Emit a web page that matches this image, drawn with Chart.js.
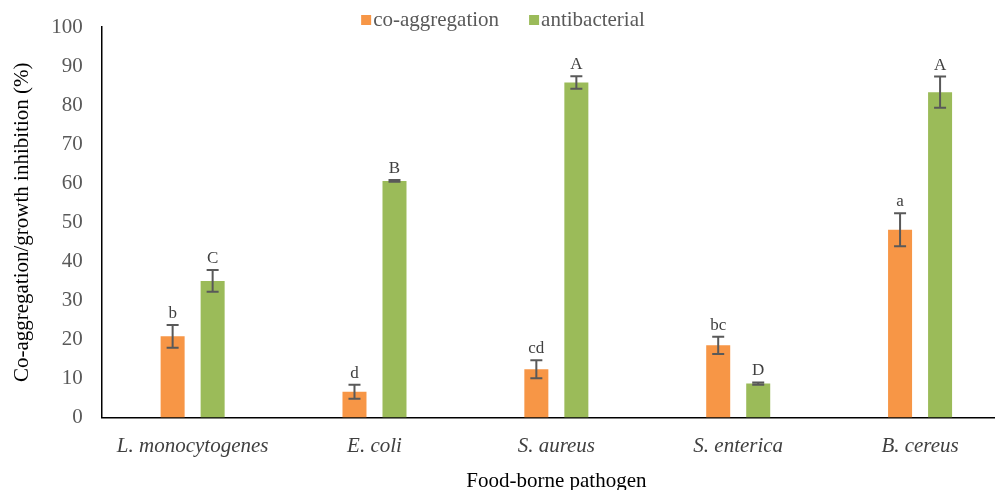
<!DOCTYPE html>
<html>
<head>
<meta charset="utf-8">
<script src="https://cdn.jsdelivr.net/npm/chart.js@4.4.1/dist/chart.umd.min.js"></script>
<style>
  html, body { margin: 0; padding: 0; background: #fff; }
  #wrap { width: 995px; height: 490px; overflow: hidden; position: relative; }
  canvas { display: block; }
</style>
</head>
<body>
<div id="wrap">
  <canvas id="myChart" width="1016" height="500"></canvas>
</div>
<script>
const categories = ['L. monocytogenes', 'E. coli', 'S. aureus', 'S. enterica', 'B. cereus'];
const coAgg = [20.8, 6.6, 12.4, 18.5, 48.1];
const coAggErr = [2.9, 1.8, 2.3, 2.2, 4.2];
const coAggLetters = ['b', 'd', 'cd', 'bc', 'a'];
const antibac = [35.0, 60.6, 85.8, 8.7, 83.3];
const antibacErr = [2.8, 0.2, 1.6, 0.3, 4.0];
const antibacLetters = ['C', 'B', 'A', 'D', 'A'];
const yTicks = [0, 10, 20, 30, 40, 50, 60, 70, 80, 90, 100];

const serif = "'Liberation Serif', 'Times New Roman', serif";
const orange = '#F79646'
const green = '#9BBB59'

const errs = [coAggErr, antibacErr]
const letters = [coAggLetters, antibacLetters]

// error bars and significance letters
const errorBars = {
    id: 'errorBars',
    afterDatasetsDraw(chart) {
        const ctx = chart.ctx
        const y = chart.scales.y
        ctx.save()
        chart.data.datasets.forEach((ds, d) => {
            const meta = chart.getDatasetMeta(d)
            meta.data.forEach((bar, i) => {
                const v = ds.data[i]
                const e = errs[d][i]
                const top = y.getPixelForValue(v + e)
                const bot = y.getPixelForValue(v - e)
                ctx.strokeStyle = '#595959'
                ctx.lineWidth = 2
                ctx.beginPath()
                ctx.moveTo(bar.x, top); ctx.lineTo(bar.x, bot)
                ctx.moveTo(bar.x - 6, top); ctx.lineTo(bar.x + 6, top)
                ctx.moveTo(bar.x - 6, bot); ctx.lineTo(bar.x + 6, bot)
                ctx.stroke()
                ctx.fillStyle = '#404040'
                ctx.font = '17px ' + serif
                ctx.textAlign = 'center'
                ctx.textBaseline = 'alphabetic'
                ctx.fillText(letters[d][i], bar.x, top - 7)
            })
        })
        ctx.restore()
    }
}

// legend drawn by hand so it can sit over the top of the plot
const topLegend = {
    id: 'topLegend',
    afterDraw(chart) {
        const ctx = chart.ctx
        ctx.save()
        ctx.font = '21px ' + serif
        ctx.textBaseline = 'middle'
        ctx.textAlign = 'left'
        const items = chart.data.datasets
        let total = 0
        items.forEach((ds, i) => {
            total += 12 + ctx.measureText(ds.label).width + (i < items.length - 1 ? 30 : 0)
        })
        let x = chart.width / 2 - 5 - total / 2
        const cy = 20
        items.forEach((ds, i) => {
            ctx.fillStyle = ds.backgroundColor
            ctx.fillRect(x, cy - 5, 10, 10)
            x += 12
            ctx.fillStyle = '#595959'
            ctx.fillText(ds.label, x, cy)
            x += ctx.measureText(ds.label).width + 30
        })
        ctx.restore()
    }
}

const ctx = document.getElementById('myChart').getContext('2d')
new Chart(ctx, {
    type: 'bar',
    data: {
        labels: categories,
        datasets: [
            { label: 'co-aggregation', data: coAgg, backgroundColor: orange },
            { label: 'antibacterial', data: antibac, backgroundColor: green }
        ]
    },
    options: {
        responsive: false,
        animation: false,
        categoryPercentage: 0.44,
        barPercentage: 0.6,
        layout: { padding: { top: 27, right: 5, left: 10, bottom: 6 } },
        plugins: {
            legend: { display: false },
            tooltip: { enabled: false }
        },
        scales: {
            x: {
                grid: { display: false },
                border: { color: '#000', width: 1.5 },
                ticks: {
                    color: '#404040',
                    padding: 8,
                    maxRotation: 0,
                    font: { family: serif, size: 21, style: 'italic' }
                },
                title: {
                    display: true,
                    text: 'Food-borne pathogen',
                    color: '#000',
                    padding: { top: 2, bottom: 0 },
                    font: { family: serif, size: 21 }
                }
            },
            y: {
                min: 0,
                max: 100,
                grid: { display: false },
                border: { color: '#000', width: 1.5 },
                afterBuildTicks(axis) {
                    axis.ticks = yTicks.map(v => ({ value: v }))
                },
                ticks: {
                    color: '#595959',
                    padding: 11,
                    font: { family: serif, size: 21 }
                },
                title: {
                    display: true,
                    text: 'Co-aggregation/growth inhibition (%)',
                    color: '#000',
                    padding: { top: 0, bottom: 5 },
                    font: { family: serif, size: 21 }
                }
            }
        }
    },
    plugins: [errorBars, topLegend]
})
</script>
</body>
</html>
